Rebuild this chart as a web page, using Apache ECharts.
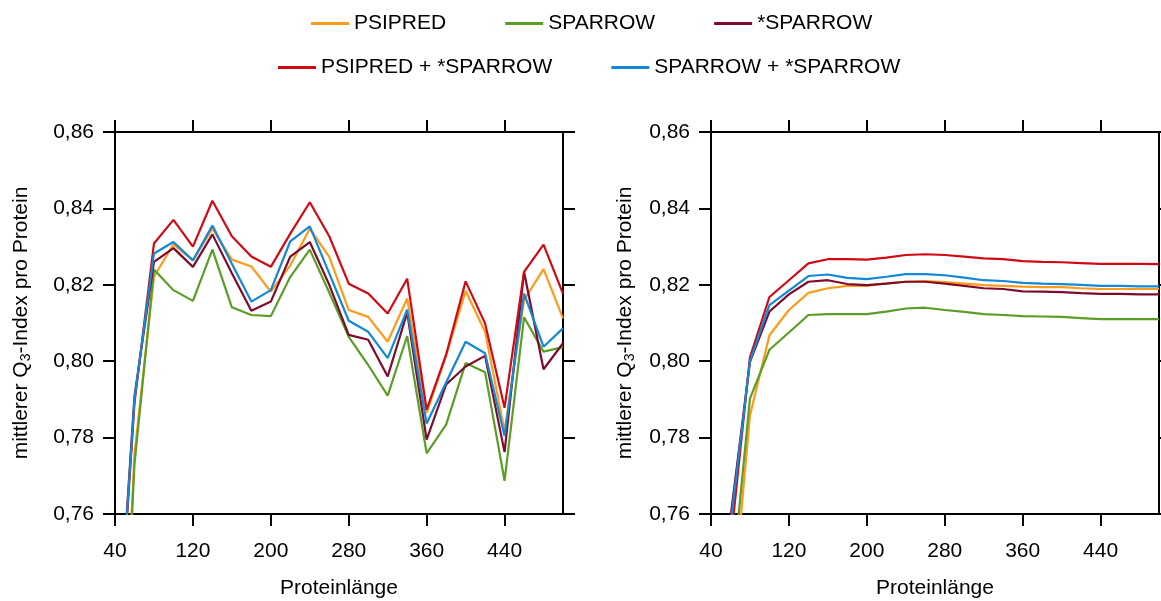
<!DOCTYPE html>
<html>
<head>
<meta charset="utf-8">
<script src="https://cdn.jsdelivr.net/npm/echarts@6/dist/echarts.min.js"></script>
<style>
  html, body { margin: 0; padding: 0; background: #fff; }
  #chart { width: 1161px; height: 601px; }
</style>
</head>
<body>
<div id="chart"></div>
<script>
// Protein length bins (x) shared by both panels
const proteinLengths = [50, 60, 80, 100, 120, 140, 160, 180, 200, 220, 240, 260,
                        280, 300, 320, 340, 360, 380, 400, 420, 440, 460, 480, 500];
const xTicks = [40, 120, 200, 280, 360, 440];
const yTicks = [0.76, 0.78, 0.80, 0.82, 0.84, 0.86];

const seriesNames = ['PSIPRED', 'SPARROW', '*SPARROW', 'PSIPRED + *SPARROW', 'SPARROW + *SPARROW'];
const seriesColors = ['#FF9A1A', '#5A9E25', '#7E0B2B', '#CF0A14', '#1288D6'];

// Left panel: mean Q3 per protein for each length bin
const leftPsipred     = [0.722, 0.7756, 0.8221, 0.8306, 0.8264, 0.8347, 0.8266, 0.8248, 0.8182, 0.8251, 0.8347, 0.8273,
                         0.8134, 0.8116, 0.8051, 0.8164, 0.7865, 0.8015, 0.8184, 0.8077, 0.7817, 0.8160, 0.8241, 0.8112];
const leftSparrow     = [0.720, 0.7730, 0.8240, 0.8186, 0.8158, 0.8292, 0.8141, 0.8121, 0.8118, 0.8221, 0.8292, 0.8180,
                         0.8064, 0.7990, 0.7910, 0.8066, 0.7759, 0.7834, 0.7995, 0.7971, 0.7687, 0.8115, 0.8025, 0.8037];
const leftStarSparrow = [0.752, 0.7908, 0.8260, 0.8296, 0.8247, 0.8332, 0.8230, 0.8132, 0.8156, 0.8274, 0.8312, 0.8200,
                         0.8069, 0.8056, 0.7960, 0.8127, 0.7795, 0.7939, 0.7986, 0.8014, 0.7762, 0.8234, 0.7979, 0.8047];
const leftPsiStar     = [0.750, 0.7890, 0.8308, 0.8370, 0.8300, 0.8420, 0.8327, 0.8274, 0.8247, 0.8334, 0.8416, 0.8327,
                         0.8203, 0.8177, 0.8125, 0.8216, 0.7873, 0.8017, 0.8209, 0.8099, 0.7878, 0.8234, 0.8305, 0.8177];
const leftSparStar    = [0.751, 0.7900, 0.8282, 0.8312, 0.8264, 0.8355, 0.8255, 0.8156, 0.8186, 0.8314, 0.8353, 0.8230,
                         0.8106, 0.8077, 0.8008, 0.8135, 0.7837, 0.7944, 0.8051, 0.8021, 0.7804, 0.8177, 0.8038, 0.8086];

// Right panel: cumulative mean Q3 per protein
const rightPsipred     = [0.700, 0.729, 0.7858, 0.8068, 0.8134, 0.8179, 0.8191, 0.8197, 0.8197, 0.8204, 0.8208, 0.8210,
                          0.8207, 0.8203, 0.8199, 0.8197, 0.8195, 0.8194, 0.8194, 0.8191, 0.8189, 0.8189, 0.8189, 0.8189];
const rightSparrow     = [0.710, 0.738, 0.7902, 0.8030, 0.8075, 0.8121, 0.8123, 0.8123, 0.8123, 0.8130, 0.8138, 0.8140,
                          0.8134, 0.8129, 0.8123, 0.8121, 0.8118, 0.8117, 0.8116, 0.8113, 0.8110, 0.8110, 0.8110, 0.8110];
const rightStarSparrow = [0.738, 0.759, 0.7998, 0.8130, 0.8175, 0.8208, 0.8212, 0.8202, 0.8199, 0.8203, 0.8208, 0.8208,
                          0.8203, 0.8197, 0.8191, 0.8189, 0.8183, 0.8182, 0.8181, 0.8178, 0.8176, 0.8176, 0.8175, 0.8175];
const rightPsiStar     = [0.735, 0.752, 0.8010, 0.8168, 0.8212, 0.8256, 0.8267, 0.8267, 0.8266, 0.8271, 0.8278, 0.8280,
                          0.8278, 0.8274, 0.8269, 0.8267, 0.8262, 0.8260, 0.8259, 0.8257, 0.8255, 0.8255, 0.8255, 0.8254];
const rightSparStar    = [0.735, 0.757, 0.8000, 0.8147, 0.8185, 0.8223, 0.8227, 0.8218, 0.8215, 0.8221, 0.8228, 0.8228,
                          0.8225, 0.8219, 0.8212, 0.8210, 0.8205, 0.8203, 0.8202, 0.8200, 0.8197, 0.8197, 0.8196, 0.8196];

const leftValues  = [leftPsipred, leftSparrow, leftStarSparrow, leftPsiStar, leftSparStar];
const rightValues = [rightPsipred, rightSparrow, rightStarSparrow, rightPsiStar, rightSparStar];

const FONT = '"Liberation Sans", Arial, sans-serif';
const AXIS_COLOR = '#000';

function fmtY(v) { return v.toFixed(2).replace('.', ','); }

function xAxisDef(grid, position) {
  const main = position === 'bottom';
  return {
    type: 'value', gridIndex: grid, position: position,
    min: 40, max: 500, interval: 80,
    splitLine: { show: false },
    axisLine: { show: true, onZero: false, lineStyle: { color: AXIS_COLOR, width: 2 } },
    axisTick: { show: true, length: 12, customValues: xTicks, lineStyle: { color: AXIS_COLOR, width: 2 } },
    axisLabel: { show: main, customValues: xTicks, margin: 27, fontSize: 21, color: '#000', fontFamily: FONT },
    name: main ? 'Proteinlänge' : '',
    nameLocation: 'middle', nameGap: 64,
    nameTextStyle: { fontSize: 21, color: '#000', fontFamily: FONT }
  };
}

function yAxisDef(grid, position, gap) {
  const main = position === 'left';
  return {
    type: 'value', gridIndex: grid, position: position,
    min: 0.76, max: 0.86, interval: 0.02,
    splitLine: { show: false },
    axisLine: { show: true, onZero: false, lineStyle: { color: AXIS_COLOR, width: 2 } },
    axisTick: { show: true, length: 12, customValues: yTicks, lineStyle: { color: AXIS_COLOR, width: 2 } },
    axisLabel: { show: main, customValues: yTicks, margin: 21, fontSize: 21, color: '#000', fontFamily: FONT,
                 formatter: fmtY },
    name: main ? 'mittlerer Q{sub|3}-Index pro Protein' : '',
    nameLocation: 'middle', nameGap: gap,
    nameTextStyle: {
      fontSize: 21, color: '#000', fontFamily: FONT, lineHeight: 24,
      rich: { sub: { fontSize: 14, color: '#000', fontFamily: FONT, verticalAlign: 'bottom' } }
    }
  };
}

function buildSeries(values, axisIdx) {
  return values.map((vals, i) => ({
    name: seriesNames[i],
    type: 'line',
    xAxisIndex: axisIdx, yAxisIndex: axisIdx,
    symbol: 'none',
    clip: true,
    data: proteinLengths.map((x, k) => [x, vals[k]]),
    lineStyle: { color: seriesColors[i], width: 2.2 },
    itemStyle: { color: seriesColors[i] }
  }));
}

const legendBase = {
  orient: 'horizontal', icon: 'rect', itemWidth: 38, itemHeight: 3, itemGap: 59,
  textStyle: { fontSize: 21, color: '#000', fontFamily: FONT }
};

const option = {
  animation: false,
  backgroundColor: '#fff',
  legend: [
    Object.assign({}, legendBase, { left: 306, top: 8, data: seriesNames.slice(0, 3) }),
    Object.assign({}, legendBase, { left: 273, top: 52, data: seriesNames.slice(3) })
  ],
  grid: [
    { left: 115, top: 132, width: 448, height: 382, containLabel: false, outerBoundsMode: 'none' },
    { left: 711, top: 132, width: 448, height: 382, containLabel: false, outerBoundsMode: 'none' }
  ],
  xAxis: [xAxisDef(0, 'bottom'), xAxisDef(0, 'top'), xAxisDef(1, 'bottom'), xAxisDef(1, 'top')],
  yAxis: [yAxisDef(0, 'left', 82), yAxisDef(0, 'right', 0), yAxisDef(1, 'left', 74), yAxisDef(1, 'right', 0)],
  series: buildSeries(leftValues, 0).concat(buildSeries(rightValues, 2))
};

const chart = echarts.init(document.getElementById('chart'), null, { renderer: 'canvas' });
chart.setOption(option);
</script>
</body>
</html>
